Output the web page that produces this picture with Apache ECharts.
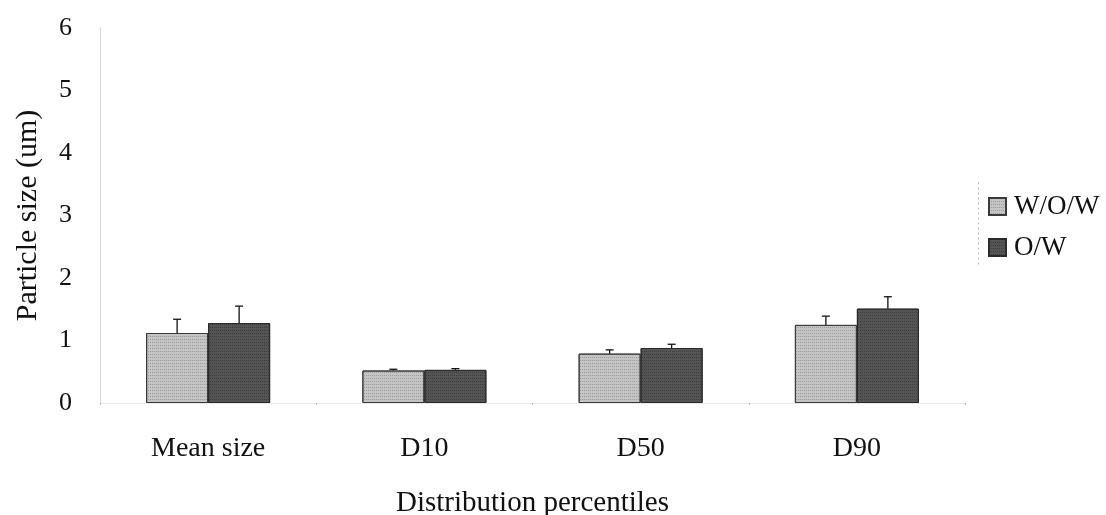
<!DOCTYPE html>
<html>
<head>
<meta charset="utf-8">
<script src="https://cdn.jsdelivr.net/npm/echarts@6/dist/echarts.min.js"></script>
<style>
  html, body { margin: 0; padding: 0; background: #fff; }
  #chart { width: 1106px; height: 515px; }
</style>
</head>
<body>
<div id="chart"></div>
<script>
// Particle size by distribution percentile, two emulsion types
const categories = ['Mean size', 'D10', 'D50', 'D90'];
const seriesNames = ['W/O/W', 'O/W'];
const wowValues = [1.12, 0.52, 0.79, 1.25];
const wowErrors = [0.22, 0.02, 0.06, 0.14];
const owValues = [1.28, 0.53, 0.88, 1.51];
const owErrors = [0.27, 0.02, 0.06, 0.19];
const yTicks = [0, 1, 2, 3, 4, 5, 6];

const FONT = '"Liberation Serif", "Times New Roman", serif';
const BAR_W = 62;
const colors = ['#c4c4c4', '#545454'];

// Error bar drawn on top of each bar, offset to its bar's slot
function errorSeries(values, errors, offsetSign) {
  return {
    type: 'custom',
    name: 'err',
    silent: true,
    z: 5,
    data: values.map((v, i) => [i, v, v + errors[i]]),
    renderItem: function (params, api) {
      const x = api.coord([api.value(0), 0])[0] + offsetSign * BAR_W / 2;
      const y0 = api.coord([api.value(0), api.value(1)])[1];
      const y1 = api.coord([api.value(0), api.value(2)])[1];
      const cap = 4;
      const style = { stroke: '#111', lineWidth: 1.3 };
      return {
        type: 'group',
        children: [
          { type: 'line', shape: { x1: x, y1: y0, x2: x, y2: y1 }, style: style },
          { type: 'line', shape: { x1: x - cap, y1: y1, x2: x + cap, y2: y1 }, style: style }
        ]
      };
    }
  };
}

// fine stipple on the bar fills
function stipple(c) {
  return { symbol: 'rect', symbolSize: 1, dashArrayX: [1, 1], dashArrayY: [1, 2], rotation: 0, color: c };
}

const chart = echarts.init(document.getElementById('chart'));
chart.setOption({
  animation: false,
  backgroundColor: '#fff',
  textStyle: { fontFamily: FONT },
  grid: { left: 100, right: 141, top: 28, bottom: 112, containLabel: false, outerBoundsMode: 'none' },
  legend: {
    orient: 'vertical',
    left: 983,
    top: 188,
    itemWidth: 17,
    itemHeight: 17,
    itemGap: 14,
    icon: 'rect',
    data: seriesNames,
    textStyle: { fontFamily: FONT, fontSize: 27, color: '#111', padding: [0, 0, 0, 3] }
  },
  xAxis: {
    type: 'category',
    data: categories,
    name: 'Distribution percentiles',
    nameLocation: 'middle',
    nameGap: 86,
    nameTextStyle: { fontFamily: FONT, fontSize: 29, color: '#111' },
    axisLine: { show: true, lineStyle: { color: '#e4e4e4', type: 'dotted', width: 1 } },
    axisTick: { show: true, length: 2, lineStyle: { color: '#bbb' } },
    axisLabel: { fontFamily: FONT, fontSize: 28, color: '#111', margin: 32 }
  },
  yAxis: {
    type: 'value',
    min: 0,
    max: 6,
    interval: 1,
    name: 'Particle size (um)',
    nameLocation: 'middle',
    nameGap: 57,
    nameTextStyle: { fontFamily: FONT, fontSize: 30, color: '#111' },
    axisLine: { show: true, lineStyle: { color: '#d2d2d2', type: 'dotted', width: 1 } },
    axisTick: { show: false },
    splitLine: { show: false },
    axisLabel: {
      fontFamily: FONT, fontSize: 26, color: '#111', margin: 28,
      formatter: v => (yTicks.indexOf(v) >= 0 ? String(v) : '')
    }
  },
  graphic: [{
    type: 'line',
    left: 976,
    top: 180,
    shape: { x1: 0, y1: 0, x2: 0, y2: 84 },
    style: { stroke: '#bbb', lineWidth: 1, lineDash: [2, 3] }
  }],
  series: [
    {
      name: seriesNames[0],
      type: 'bar',
      data: wowValues,
      barWidth: BAR_W,
      barGap: '0%',
      itemStyle: { color: colors[0], borderColor: '#3a3a3a', borderWidth: 1, decal: stipple('rgba(90,90,90,0.35)') }
    },
    {
      name: seriesNames[1],
      type: 'bar',
      data: owValues,
      barWidth: BAR_W,
      barGap: '0%',
      itemStyle: { color: colors[1], borderColor: '#2a2a2a', borderWidth: 1, decal: stipple('rgba(20,20,20,0.35)') }
    },
    errorSeries(wowValues, wowErrors, -1),
    errorSeries(owValues, owErrors, 1)
  ]
});
</script>
</body>
</html>
